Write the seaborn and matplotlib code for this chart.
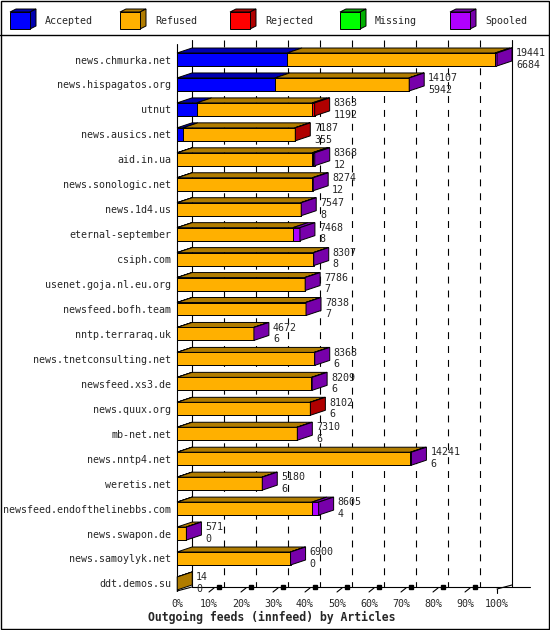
import numpy as np
import pandas as pd
import matplotlib
matplotlib.use("Agg")
import matplotlib.pyplot as plt
from matplotlib.patches import Polygon, Rectangle
import seaborn as sns

hosts = ["news.chmurka.net", "news.hispagatos.org", "utnut", "news.ausics.net",
         "aid.in.ua", "news.sonologic.net", "news.1d4.us", "eternal-september",
         "csiph.com", "usenet.goja.nl.eu.org", "newsfeed.bofh.team", "nntp.terraraq.uk",
         "news.tnetconsulting.net", "newsfeed.xs3.de", "news.quux.org", "mb-net.net",
         "news.nntp4.net", "weretis.net", "newsfeed.endofthelinebbs.com", "news.swapon.de",
         "news.samoylyk.net", "ddt.demos.su"]
offered = [19441, 14107, 8363, 7187, 8368, 8274, 7547, 7468, 8307, 7786, 7838, 4672,
           8368, 8209, 8102, 7310, 14241, 5180, 8605, 571, 6900, 14]
accepted = [6684, 5942, 1192, 355, 12, 12, 8, 8, 8, 7, 7, 6, 6, 6, 6, 6, 6, 6, 4, 0, 0, 0]
refused = [12637, 8145, 7021, 6792, 8196, 8202, 7509, 7030, 8274, 7749, 7801, 4646,
           8322, 8163, 8066, 7274, 14175, 5154, 8183, 561, 6880, 14]
rejected = [0, 0, 150, 40, 60, 0, 0, 0, 0, 0, 0, 0, 0, 0, 30, 0, 0, 0, 0, 0, 0, 0]
missing = [0] * 22
spooled = [120, 20, 0, 0, 100, 60, 30, 430, 25, 30, 30, 20, 40, 40, 0, 30, 60, 20, 418, 10, 20, 0]

series = ["Accepted", "Refused", "Rejected", "Missing", "Spooled"]
light = ["#0000ff", "#ffb000", "#ff0000", "#00ff00", "#b000ff"]
dark = ["#0000b0", "#b07c00", "#b00000", "#00b000", "#7700aa"]

sns.set_theme(style="white")
plt.rcParams["font.family"] = ["DejaVu Sans Mono"]
plt.rcParams["lines.scale_dashes"] = False
FS = 7.2

W, H = 550, 630
fig = plt.figure(figsize=(W / 100, H / 100), dpi=100)

# pixel geometry of the 3d box
X0, X1 = 177, 497
ROW0, PITCH = 59.5, 24.95
AX_TOP, AX_BOT = 38, 591
DXP, DYP = 15, 5


def row_of(py):
    return (py - ROW0) / PITCH


def xdat(px):
    return (px - X0) / (X1 - X0) * 100


DX = DXP / (X1 - X0) * 100
DY = DYP / PITCH
HALF = 0.26

# frame / legend layer in pixel coordinates
bg = fig.add_axes([0, 0, 1, 1], zorder=-1)
bg.set_xlim(0, W)
bg.set_ylim(H, 0)
bg.axis("off")
bg.add_patch(Rectangle((0.5, 0.5), W - 1.5, H - 1.5, fill=False, ec="black", lw=1))
bg.plot([0, W], [35, 35], color="black", lw=1)
for k, (name, lc, dc) in enumerate(zip(series, light, dark)):
    cx = 10 + 110 * k
    bg.add_patch(Polygon([(cx, 12), (cx + 6, 9), (cx + 26, 9), (cx + 20, 12)],
                         fc=dc, ec="black", lw=0.7))
    bg.add_patch(Polygon([(cx + 20, 12), (cx + 26, 9), (cx + 26, 26), (cx + 20, 29)],
                         fc=dc, ec="black", lw=0.7))
    bg.add_patch(Rectangle((cx, 12), 20, 17, fc=lc, ec="black", lw=0.7))
    bg.text(cx + 35, 20.5, name, fontsize=FS, va="center", ha="left")
bg.text(148, 617, "Outgoing feeds (innfeed) by Articles", fontsize=8.3,
        fontweight="bold", va="center", ha="left")

ax = fig.add_axes([X0 / W, (H - AX_BOT) / H, (X1 - X0) / W, (AX_BOT - AX_TOP) / H])
ax.patch.set_visible(False)

scale = 100 / max(offered)
df = pd.DataFrame({"host": hosts, "Accepted": accepted, "Refused": refused,
                   "Rejected": rejected, "Missing": missing, "Spooled": spooled})
cum = df[series].cumsum(axis=1) * scale
cum["host"] = hosts

# back grid
top_y = row_of(40)
floor_back = row_of(587)
for k in range(1, 10):
    ax.plot([10 * k + DX] * 2, [top_y, floor_back], color="black", lw=0.8,
            dashes=(5, 5), zorder=0.5, clip_on=False)
for xb in [DX, 100 + DX]:
    ax.plot([xb, xb], [top_y, floor_back], color="black", lw=0.8, zorder=0.5, clip_on=False)
ax.plot([0, 0], [row_of(44), row_of(591)], color="black", lw=0.8, zorder=0.6, clip_on=False)

# front faces: overlay cumulative totals, longest first
for j in range(len(series) - 1, -1, -1):
    sns.barplot(data=cum, x=series[j], y="host", orient="y", color=light[j],
                saturation=1, width=2 * HALF, edgecolor="black", linewidth=0.7, ax=ax,
                zorder=2)

# top and side faces
vals = df[series].to_numpy() * scale
for i in range(len(hosts)):
    yt = i - HALF
    yb = i + HALF
    left = 0.0
    last = 1
    for j in range(len(series)):
        w = vals[i, j]
        if w <= 0:
            continue
        right = left + w
        ax.add_patch(Polygon([(left, yt), (right, yt), (right + DX, yt - DY), (left + DX, yt - DY)],
                             fc=dark[j], ec="black", lw=0.7, zorder=2, clip_on=False))
        left = right
        last = j
    ax.add_patch(Polygon([(left, yt), (left + DX, yt - DY), (left + DX, yb - DY), (left, yb)],
                         fc=dark[last], ec="black", lw=0.7, zorder=2, clip_on=False))
    ax.text(left + DX + xdat(X0 + 4), i - 0.02, f"{offered[i]}\n{accepted[i]}",
            fontsize=FS, va="center", ha="left", linespacing=1.2, clip_on=False)

# floor
ax.plot([xdat(192), xdat(530)], [row_of(587)] * 2, color="black", lw=0.8, clip_on=False)
ax.plot([0, DX], [row_of(591), row_of(587)], color="black", lw=0.8, clip_on=False)
ax.plot([100, 100 + DX], [row_of(589), row_of(585)], color="black", lw=0.8, clip_on=False)
ax.plot([100, 100], [row_of(589), row_of(593)], color="black", lw=0.8, clip_on=False)
for k in range(1, 10):
    ax.plot([10 * k, 10 * k + xdat(X0 + 5)], [row_of(592), row_of(588)],
            color="black", lw=0.8, clip_on=False)
    ax.plot([10 * k + xdat(X0 + 10)], [row_of(587)], marker="s", ms=2.2,
            color="black", clip_on=False)

ax.set_xlim(0, 100)
ax.set_ylim(row_of(AX_BOT), row_of(AX_TOP))
ax.set_xticks(range(0, 101, 10))
ax.set_xticklabels([f"{t}%" for t in range(0, 101, 10)], fontsize=FS)
ax.tick_params(axis="x", length=0, pad=6)
ax.tick_params(axis="y", length=0, pad=4, labelsize=FS)
ax.set_xlabel("")
ax.set_ylabel("")
for s in ax.spines.values():
    s.set_visible(False)
ax.grid(False)

fig.savefig("out.png", dpi=100)
